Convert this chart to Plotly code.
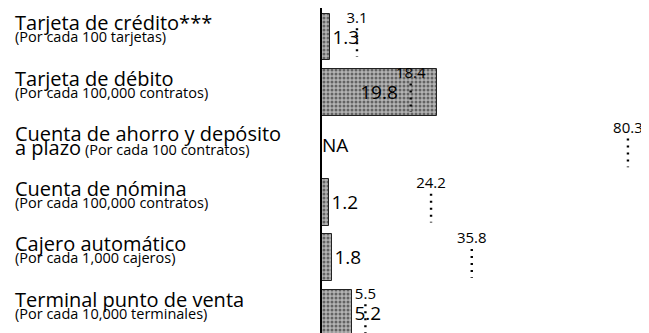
import plotly.graph_objects as go

# rows, top to bottom
titulos = [
    "Tarjeta de crédito***",
    "Tarjeta de débito",
    "Cuenta de ahorro y depósito",
    "Cuenta de nómina",
    "Cajero automático",
    "Terminal punto de venta",
]
subtitulos = [
    "(Por cada 100 tarjetas)",
    "(Por cada 100,000 contratos)",
    "(Por cada 100 contratos)",
    "(Por cada 100,000 contratos)",
    "(Por cada 1,000 cajeros)",
    "(Por cada 10,000 terminales)",
]
segunda_linea = ["", "", "a plazo", "", "", ""]

# shaded bars (None = NA) and dotted reference markers
valores_barra = [1.3, 19.8, None, 1.2, 1.8, 5.2]
valores_ref = [3.1, 18.4, 80.3, 24.2, 35.8, 5.5]

FONT = "Open Sans"
filas = list(range(len(titulos)))

fig = go.Figure()

fig.add_bar(
    x=valores_barra,
    y=filas,
    orientation="h",
    width=0.85,
    marker=dict(
        color="#a8a8a8",
        line=dict(color="#222222", width=1),
        pattern=dict(shape=".", fgcolor="#111111", bgcolor="#b4b4b4", size=4, solidity=0.45),
    ),
    text=[f"{v}" if v is not None else "" for v in valores_barra],
    textposition=["inside" if (v or 0) > 10 else "outside" for v in valores_barra],
    insidetextanchor="middle",
    textfont=dict(family=FONT, size=19, color="black"),
    cliponaxis=False,
    showlegend=False,
)

# NA label
na_rows = [i for i, v in zip(filas, valores_barra) if v is None]
fig.add_scatter(
    x=[0] * len(na_rows),
    y=na_rows,
    mode="text",
    text=["NA"] * len(na_rows),
    textposition="middle right",
    textfont=dict(family=FONT, size=19, color="black"),
    showlegend=False,
)

# dotted markers on their own scale
xs, ys = [], []
for i, v in zip(filas, valores_ref):
    xs += [v, v, None]
    ys += [i - 0.16, i + 0.36, None]
fig.add_scatter(
    x=xs, y=ys, xaxis="x2", mode="lines",
    line=dict(color="black", width=2.4, dash="2px,5px"),
    showlegend=False,
)
fig.add_scatter(
    x=valores_ref,
    y=[i - 0.33 for i in filas],
    xaxis="x2",
    mode="text",
    text=[f"{v}" for v in valores_ref],
    textposition="middle center",
    textfont=dict(family=FONT, size=15, color="black"),
    cliponaxis=False,
    showlegend=False,
)

for i in filas:
    fig.add_annotation(
        x=-0.945, xref="paper", y=i, yref="y", yshift=14,
        text=titulos[i], showarrow=False, xanchor="left", yanchor="middle",
        font=dict(family=FONT, size=20, color="black"),
    )
    linea2 = subtitulos[i]
    if segunda_linea[i]:
        linea2 = f"<span style='font-size:20px'>{segunda_linea[i]}</span> {subtitulos[i]}"
    fig.add_annotation(
        x=-0.945, xref="paper", y=i, yref="y", yshift=0,
        text=linea2, showarrow=False, xanchor="left", yanchor="middle",
        font=dict(family=FONT, size=14.5, color="black"),
    )

# page body keeps an 8px margin, so the figure is sized to fit the window
fig.update_layout(
    width=641,
    height=325,
    margin=dict(l=314, r=0, t=0, b=0),
    paper_bgcolor="white",
    plot_bgcolor="white",
    bargap=0,
    xaxis=dict(range=[0, 56.4], visible=False, fixedrange=True),
    xaxis2=dict(range=[-6.87, 86.3], overlaying="x", visible=False),
    yaxis=dict(
        range=[5.36, -0.525],
        showticklabels=False,
        showgrid=False,
        zeroline=False,
        showline=True,
        linecolor="black",
        linewidth=1.5,
    ),
)

fig.write_html("out.html")
